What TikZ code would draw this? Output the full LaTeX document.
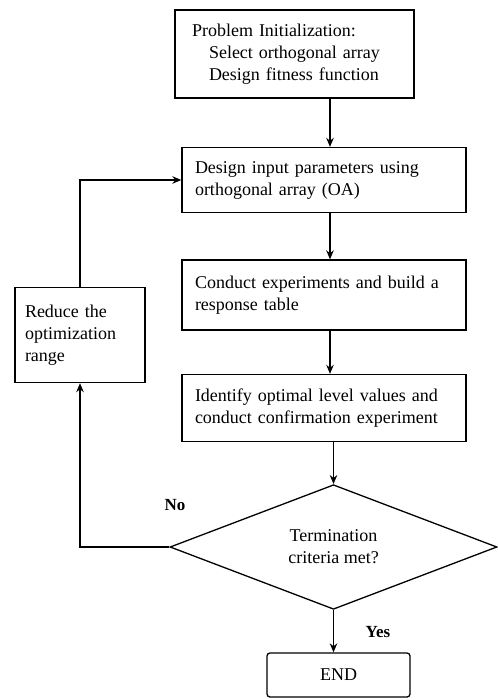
\documentclass[tikz,border=0pt]{standalone}
\usepackage{fontspec}
\setmainfont{Liberation Serif}
\usetikzlibrary{shapes.geometric,arrows.meta}
\begin{document}
\begin{tikzpicture}[x=1pt,y=-1pt,
  box/.style={draw,line width=1.3pt,rectangle,align=left,inner xsep=0pt,inner ysep=0pt,
    font=\fontsize{18}{22}\selectfont},
  arr/.style={line width=1.3pt,-{Stealth[length=9pt,width=7.5pt]}},
  lab/.style={font=\fontsize{17}{20}\selectfont\bfseries}]
\useasboundingbox (0,0) rectangle (497,700);
\node[box,minimum width=239pt,minimum height=88pt,text width=205pt] (b1) at (294.5,54)
  {Problem Initialization:\\\hspace*{17pt}Select orthogonal array\\\hspace*{17pt}Design fitness function};
\node[box,minimum width=284pt,minimum height=65pt,text width=258pt] (b2) at (324,180)
  {Design input parameters using\\orthogonal array (OA)};
\node[box,minimum width=284pt,minimum height=70pt,text width=258pt] (b3) at (324,295)
  {Conduct experiments and build a\\response table};
\node[box,minimum width=284pt,minimum height=67pt,text width=258pt] (b4) at (324,408)
  {Identify optimal level values and\\conduct confirmation experiment};
\node[box,minimum width=130pt,minimum height=95pt,text width=110pt] (red) at (80,335)
  {Reduce the\\optimization\\range};
\node[draw,line width=1.3pt,diamond,minimum width=327pt,minimum height=119pt,inner sep=0pt,
  align=center,font=\fontsize{18}{22}\selectfont] (dia) at (333.5,547)
  {Termination\\criteria met?};
\node[draw,line width=1.3pt,rounded corners=3pt,minimum width=143pt,minimum height=44pt,
  inner sep=0pt,font=\fontsize{18}{22}\selectfont] (end) at (338.5,675) {END};
\coordinate (ax) at (330,0);
\draw[arr] (b1.south -| ax) -- (b2.north -| ax);
\draw[arr] (b2.south -| ax) -- (b3.north -| ax);
\draw[arr] (b3.south -| ax) -- (b4.north -| ax);
\draw[arr] (b4.south -| dia.north) -- (dia.north);
\draw[arr] (dia.south) -- (dia.south |- end.north);
\draw[arr] (dia.west) -| (red.south);
\draw[arr] (red.north) |- (b2.west);
\node[lab] (no) at (175,505) {No};
\node[lab] (yes) at (378,632) {Yes};
\end{tikzpicture}
\end{document}
